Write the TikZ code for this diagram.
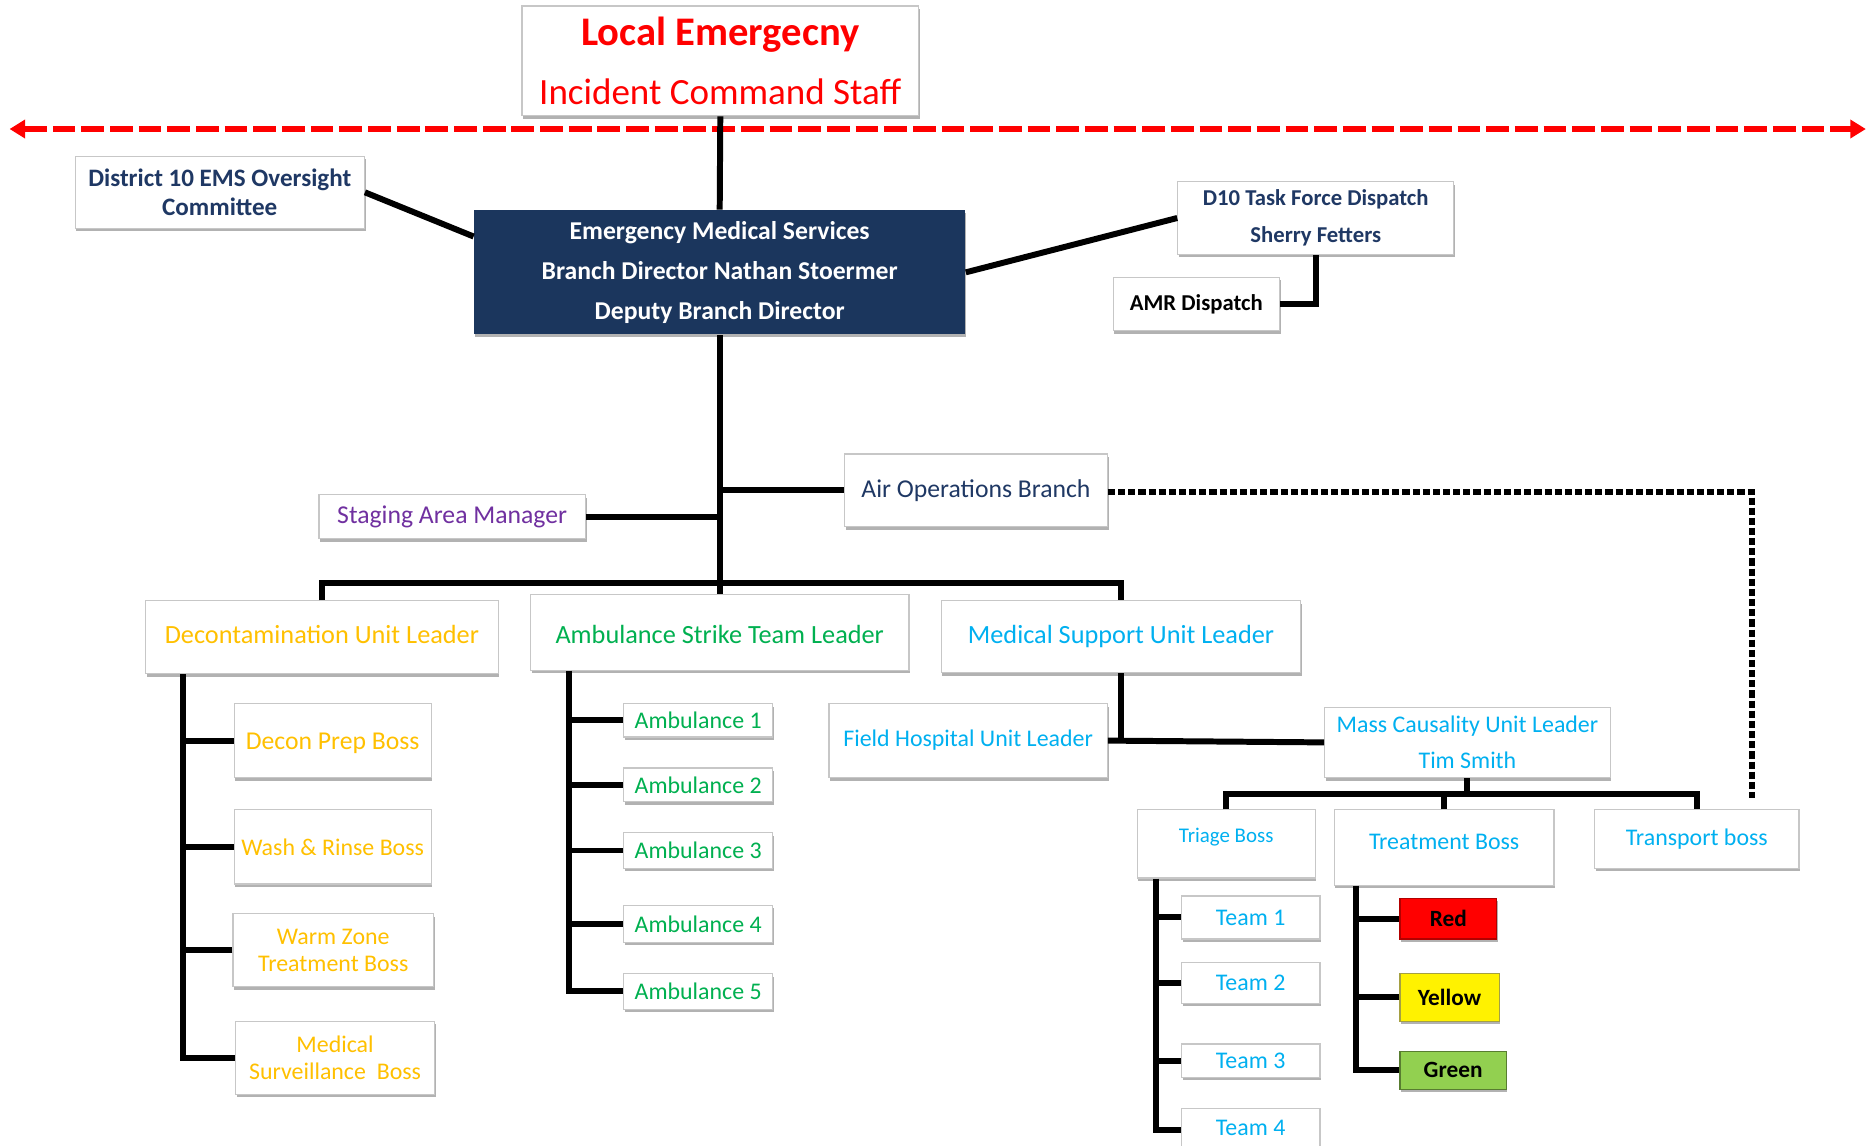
\documentclass[tikz,border=0pt]{standalone}
\usepackage{fontspec}
\setmainfont{Carlito}
\usetikzlibrary{arrows.meta,shadows,calc}
\definecolor{navy}{HTML}{1F3864}
\definecolor{emsfill}{HTML}{1B365D}
\definecolor{purp}{HTML}{7030A0}
\definecolor{orng}{HTML}{FFC000}
\definecolor{grn}{HTML}{00B050}
\definecolor{cyn}{HTML}{00B0F0}
\definecolor{lgreen}{HTML}{92D050}
\newcommand{\fs}[2]{\fontsize{#1}{#2}\selectfont}
\newcommand{\up}[2]{\raisebox{#1}[\height][\depth]{#2}}
\begin{document}
\begin{tikzpicture}[x=1pt,y=-1pt,
  box/.style={draw=black!22, line width=1pt, fill=white, inner sep=0pt, align=center,
    drop shadow={shadow xshift=1pt, shadow yshift=-2.5pt, fill=black!55, opacity=0.55}},
  conn/.style={line width=5pt, black, line join=miter},
  redarrow/.style={draw=red, line width=4.5pt, dash pattern=on 19pt off 5pt,
    {Triangle[length=13pt,width=15pt]}-{Triangle[length=13pt,width=15pt]}},
  dotline/.style={black, line width=5pt, dash pattern=on 6pt off 2.5pt},
  lead/.style={box, font=\fs{22}{26}},
  small/.style={box, font=\fs{20}{23}},
]
\useasboundingbox (0,0) rectangle (1568,959);
\fill[white] (0,0) rectangle (1568,959);

% top
\node[box, minimum width=332pt, minimum height=92pt, text=red, font=\fs{31}{50}] (le) at (603,51)
  {{\fs{34}{50}\bfseries Local Emergecny}\\Incident Command Staff};
\coordinate (rl) at (8,108);
\coordinate (rr) at (1562,108);
\draw[redarrow] (rl) -- (rr);

\node[box, minimum width=242pt, minimum height=60pt, text=navy, font=\fs{21}{25}\bfseries] (dist) at (184,161)
  {District 10 EMS Oversight\\Committee};
\node[box, draw=none, fill=emsfill, minimum width=411pt, minimum height=104pt, text=white, font=\fs{21.5}{33.5}\bfseries] (ems) at (602.5,228)
  {Emergency Medical Services\\Branch Director Nathan Stoermer\\Deputy Branch Director};
\node[box, minimum width=231pt, minimum height=61pt, text=navy, font=\fs{19}{31}\bfseries] (d10) at (1101.5,182.5)
  {D10 Task Force Dispatch\\Sherry Fetters};
\node[box, minimum width=139pt, minimum height=45pt, text=black, font=\fs{19}{23}\bfseries] (amr) at (1001.5,254.5)
  {AMR Dispatch};

\node[box, minimum width=220pt, minimum height=61pt, text=navy, font=\fs{21.5}{25}] (air) at (817,410.5)
  {Air Operations Branch};
\node[box, minimum width=223pt, minimum height=37pt, text=purp, font=\fs{21.5}{25}] (stage) at (378.5,432.5)
  {Staging Area Manager};

\node[lead, minimum width=295pt, minimum height=61pt, text=orng] (decon) at (269.5,533.5) {\up{2pt}{Decontamination Unit Leader}};
\node[lead, minimum width=317pt, minimum height=63pt, text=grn] (ast) at (602.5,529.5) {\up{-1.5pt}{Ambulance Strike Team Leader}};
\node[lead, minimum width=301pt, minimum height=60pt, text=cyn] (msu) at (938.5,533) {Medical Support Unit Leader};

% decon children
\node[box, minimum width=165pt, minimum height=62pt, text=orng, font=\fs{21.5}{25}] (prep) at (278.5,620) {\up{-2pt}{Decon Prep Boss}};
\node[small, minimum width=165pt, minimum height=62pt, text=orng] (wash) at (278.5,709) {Wash \& Rinse Boss};
\node[small, minimum width=168pt, minimum height=61pt, text=orng] (warm) at (279,795.5) {Warm Zone\\Treatment Boss};
\node[small, minimum width=167pt, minimum height=61pt, text=orng] (msurv) at (280.5,885.5) {Medical\\Surveillance\ \ Boss};

% ambulances
\node[small, minimum width=125pt, minimum height=28pt, text=grn] (amb1) at (584.5,603) {Ambulance 1};
\node[small, minimum width=125pt, minimum height=28pt, text=grn] (amb2) at (584.5,657) {Ambulance 2};
\node[small, minimum width=125pt, minimum height=30pt, text=grn] (amb3) at (584.5,712) {Ambulance 3};
\node[small, minimum width=125pt, minimum height=31pt, text=grn] (amb4) at (584.5,773.5) {Ambulance 4};
\node[small, minimum width=125pt, minimum height=30pt, text=grn] (amb5) at (584.5,830) {Ambulance 5};

% medical support children
\node[small, minimum width=233pt, minimum height=62pt, text=cyn] (fh) at (810.5,620) {Field Hospital Unit Leader};
\node[small, minimum width=239pt, minimum height=59pt, text=cyn, font=\fs{20}{30}] (mcu) at (1228.5,621.5) {Mass Causality Unit Leader\\Tim Smith};
\node[box, minimum width=149pt, minimum height=57pt, text=cyn, font=\fs{17.5}{21}] (triage) at (1026.5,706.5) {\up{6pt}{Triage Boss}};
\node[small, minimum width=184pt, minimum height=63pt, text=cyn] (treat) at (1209,709.5) {\up{5pt}{Treatment Boss}};
\node[small, minimum width=171pt, minimum height=49pt, text=cyn] (transport) at (1420.5,702.5) {Transport boss};

\node[small, minimum width=116pt, minimum height=36pt, text=cyn] (team1) at (1047,768) {Team 1};
\node[small, minimum width=116pt, minimum height=34pt, text=cyn] (team2) at (1047,823) {Team 2};
\node[small, minimum width=116pt, minimum height=28pt, text=cyn] (team3) at (1047,888) {Team 3};
\node[small, minimum width=116pt, minimum height=36pt, text=cyn] (team4) at (1047,946) {\up{1.5pt}{Team 4}};

\node[small, minimum width=81pt, minimum height=34pt, fill=red, draw=red!70!black, text=black, font=\fs{19.5}{23}\bfseries] (red) at (1212.5,769) {Red};
\node[small, minimum width=83pt, minimum height=40pt, fill=yellow, draw=yellow!60!black, text=black, font=\fs{19.5}{23}\bfseries] (yellow) at (1213.5,835) {Yellow};
\node[small, minimum width=89pt, minimum height=32pt, fill=lgreen, draw=lgreen!60!black, text=black, font=\fs{19.5}{23}\bfseries] (green) at (1216.5,896) {Green};

% connectors top
\draw[conn] (le.south) -- (ems.north);
\draw[conn] (dist.east) -- ([yshift=30pt]ems.west);
\draw[conn] (ems.east) -- (d10.west);
\draw[conn] (d10.south) |- (amr.east);

% trunk
\coordinate (bus) at (602.5,488);
\draw[conn] (ems.south) -- (ast.north);
\draw[conn] (air.west) -- (air.west -| ems.south);
\draw[conn] (stage.east) -- (stage.east -| ems.south);
\draw[conn] (decon.north) |- (bus) -| (msu.north);

% dotted
\coordinate (dotend) at (1467,668);
\draw[dotline] ([yshift=-1.5pt]air.east) -| (dotend);

% decon spine
\coordinate (dsp) at ([xshift=-116.5pt]decon.south);
\draw[conn] (dsp) |- (msurv.west);
\draw[conn] (prep.west) -- (prep.west -| dsp);
\draw[conn] (wash.west) -- (wash.west -| dsp);
\draw[conn] (warm.west) -- (warm.west -| dsp);

% ambulance spine
\coordinate (asp) at ([xshift=-126.5pt]ast.south);
\draw[conn] (asp) |- (amb5.west);
\draw[conn] (amb1.west) -- (amb1.west -| asp);
\draw[conn] (amb2.west) -- (amb2.west -| asp);
\draw[conn] (amb3.west) -- (amb3.west -| asp);
\draw[conn] (amb4.west) -- (amb4.west -| asp);

% medical support
\draw[conn] (fh.east) -- (mcu.west);
\draw[conn] (msu.south) -- (msu.south |- fh.east);

% mass causality
\coordinate (mbus) at (1228.5,665);
\draw[conn] (mcu.south) -- (mbus);
\draw[conn] (triage.north) |- (mbus) -| (transport.north);
\draw[conn] (treat.north) -- (treat.north |- mbus);

% triage spine
\coordinate (tsp) at ([xshift=-58.5pt]triage.south);
\draw[conn] (tsp) |- (team4.west);
\draw[conn] (team1.west) -- (team1.west -| tsp);
\draw[conn] (team2.west) -- (team2.west -| tsp);
\draw[conn] (team3.west) -- (team3.west -| tsp);

% treatment spine
\coordinate (rsp) at ([xshift=-74pt]treat.south);
\draw[conn] (rsp) |- (green.west);
\draw[conn] (red.west) -- (red.west -| rsp);
\draw[conn] (yellow.west) -- (yellow.west -| rsp);
\end{tikzpicture}
\end{document}
